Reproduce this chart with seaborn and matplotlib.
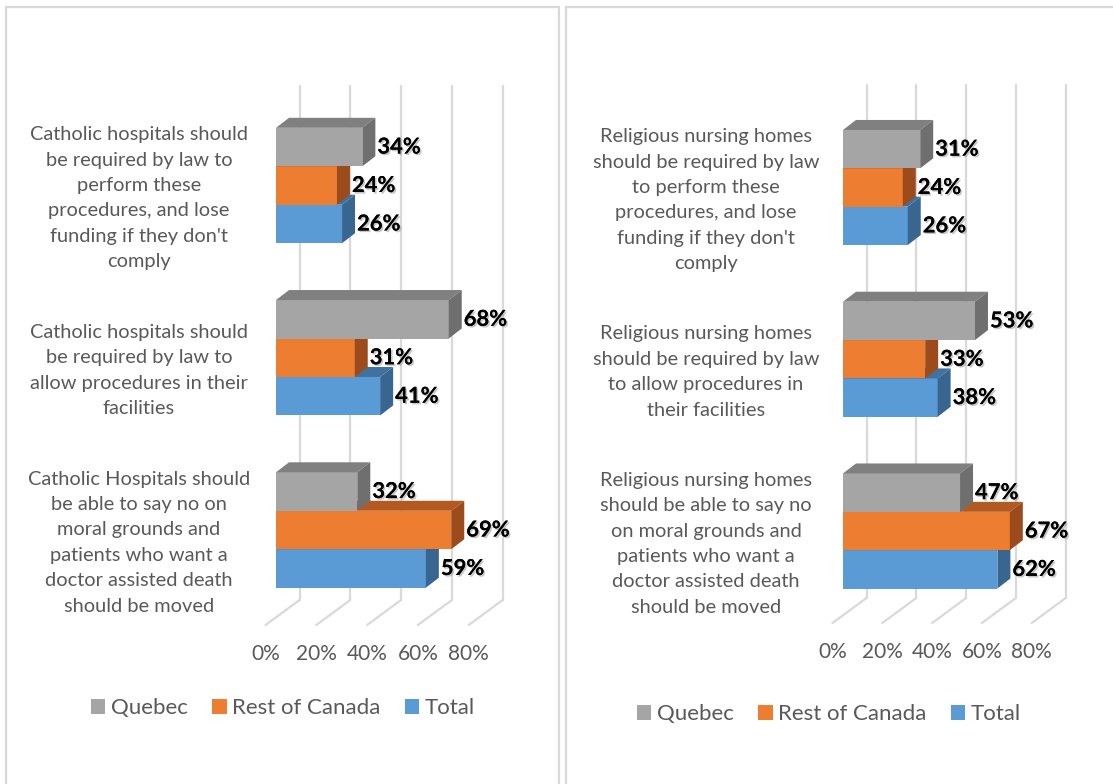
import numpy as np
import pandas as pd
import matplotlib
matplotlib.use("Agg")
import matplotlib.pyplot as plt
import seaborn as sns
import matplotlib.patheffects as pe
from matplotlib.patches import Polygon, Rectangle
from matplotlib.transforms import ScaledTranslation

# ---------------- data ----------------
series = ["Quebec", "Rest of Canada", "Total"]

left_categories = [
    "Catholic hospitals should\nbe required by law to\nperform these\nprocedures, and lose\nfunding if they don't\ncomply",
    "Catholic hospitals should\nbe required by law to\nallow procedures in their\nfacilities",
    "Catholic Hospitals should\nbe able to say no on\nmoral grounds and\npatients who want a\ndoctor assisted death\nshould be moved",
]
left_quebec = [34, 68, 32]
left_rest = [24, 31, 69]
left_total = [26, 41, 59]

right_categories = [
    "Religious nursing homes\nshould be required by law\nto perform these\nprocedures, and lose\nfunding if they don't\ncomply",
    "Religious nursing homes\nshould be required by law\nto allow procedures in\ntheir facilities",
    "Religious nursing homes\nshould be able to say no\non moral grounds and\npatients who want a\ndoctor assisted death\nshould be moved",
]
right_quebec = [31, 53, 47]
right_rest = [24, 33, 67]
right_total = [26, 38, 62]

tick_values = [0, 20, 40, 60, 80]
tick_labels = ["0%", "20%", "40%", "60%", "80%"]

# ---------------- style ----------------
front_colors = ["#A5A5A5", "#ED7D31", "#5B9BD5"]
top_colors = ["#808080", "#B35A22", "#41729F"]
side_colors = ["#6F6F6F", "#9C4C1C", "#386690"]
text_grey = "#595959"
grid_grey = "#D9D9D9"

sns.set_style("white")
plt.rcParams["font.family"] = ["Lato", "DejaVu Sans"]

W, H, DPI = 1113, 784, 100
fig = plt.figure(figsize=(W / DPI, H / DPI), dpi=DPI)
fig.patch.set_facecolor("white")


def add_axes_px(left, top, width, bottom):
    return fig.add_axes([left / W, 1 - bottom / H, width / W, (bottom - top) / H])


def draw_panel(ax, cats, q, r, t, ylim, ax_w, ax_h, legend_xy):
    df = pd.DataFrame({
        "category": cats * 3,
        "series": [s for s in series for _ in cats],
        "value": list(q) + list(r) + list(t),
    })
    sns.barplot(data=df, y="category", x="value", hue="series",
                order=cats, hue_order=series, palette=front_colors,
                width=0.67, orient="h", errorbar=None, saturation=1,
                linewidth=0, ax=ax)
    ax.set_xlim(0, 100)
    ax.set_ylim(*ylim)
    for s in ax.spines.values():
        s.set_visible(False)
    ax.set_facecolor("none")
    ax.set_xlabel("")
    ax.set_ylabel("")

    pxx = ax_w / 100.0                      # pixels per x unit
    pxy = ax_h / abs(ylim[0] - ylim[1])     # pixels per y unit
    dx = 13 / pxx
    dy = 10 / pxy

    # back-wall gridlines and floor lines
    for tv in tick_values:
        xb = tv + 23.5 / pxx
        xf = tv - 10.5 / pxx
        ax.plot([xb, xb], [0, 1], transform=ax.get_xaxis_transform(),
                color=grid_grey, lw=1.6, zorder=0, clip_on=False)
        ax.plot([xb, xf], [0, -25 / ax_h], transform=ax.get_xaxis_transform(),
                color=grid_grey, lw=1.6, zorder=0, clip_on=False)

    # 3-D faces for bars
    for i, cont in enumerate(ax.containers):
        z = 10 - 2 * i
        vals = [q, r, t][i]
        for patch in cont:
            patch.set_zorder(z)
            x0, y0 = patch.get_x(), patch.get_y()
            w, h = patch.get_width(), patch.get_height()
            top = Polygon([(x0, y0), (x0 + w, y0), (x0 + w + dx, y0 - dy), (x0 + dx, y0 - dy)],
                          closed=True, facecolor=top_colors[i], edgecolor="none", zorder=z)
            side = Polygon([(x0 + w, y0), (x0 + w + dx, y0 - dy), (x0 + w + dx, y0 + h - dy), (x0 + w, y0 + h)],
                           closed=True, facecolor=side_colors[i], edgecolor="none", zorder=z)
            ax.add_patch(top)
            ax.add_patch(side)
        ax.bar_label(cont, labels=[f"{v}%" for v in vals], padding=15 * 0.72,
                     fontsize=15.8, fontweight="bold", color="black", zorder=20,
                     path_effects=[pe.withSimplePatchShadow(offset=(1.2, -1.2), shadow_rgbFace="#9a9a9a", alpha=0.55),
                                   pe.Normal()])

    # category labels
    ax.set_yticks(range(len(cats)))
    ax.set_yticklabels(cats, ha="center", multialignment="center", linespacing=1.6,
                       fontsize=14.4, color=text_grey)
    ax.tick_params(axis="y", length=0, pad=137 * 0.72)
    for lab in ax.get_yticklabels():
        lab.set_transform(lab.get_transform() + ScaledTranslation(0, -7 / DPI, fig.dpi_scale_trans))

    # value axis labels
    ax.set_xticks(tick_values)
    ax.set_xticklabels(tick_labels, fontsize=15, color=text_grey, va="center")
    ax.tick_params(axis="x", length=0, pad=54 * 0.72)
    for lab in ax.get_xticklabels():
        lab.set_transform(lab.get_transform() + ScaledTranslation(-10.5 / DPI, 0, fig.dpi_scale_trans))

    sns.move_legend(ax, loc="center", bbox_to_anchor=(legend_xy[0] / W, 1 - legend_xy[1] / H),
                    bbox_transform=fig.transFigure, ncol=3, title=None, frameon=False,
                    fontsize=16, labelcolor=text_grey, handlelength=0.64, handleheight=0.64,
                    handletextpad=0.25, columnspacing=1.1)


# panel frames
fig.add_artist(Rectangle((6 / W, 1 - 820 / H), (559 - 6) / W, (820 - 7) / H,
                         transform=fig.transFigure, facecolor="none", edgecolor=grid_grey, lw=1.6))
fig.add_artist(Rectangle((566 / W, 1 - 820 / H), (1140 - 566) / W, (820 - 7) / H,
                         transform=fig.transFigure, facecolor="none", edgecolor=grid_grey, lw=1.6))

# left panel
ax_l = add_axes_px(276, 86, 254, 600)
draw_panel(ax_l, left_categories, left_quebec, left_rest, left_total,
           ylim=((600 - 185.5) / 172.25, (86 - 185.5) / 172.25), ax_w=254, ax_h=600 - 86,
           legend_xy=(283, 708))

# right panel
ax_r = add_axes_px(843, 85, 249, 598)
draw_panel(ax_r, right_categories, right_quebec, right_rest, right_total,
           ylim=((598 - 187.5) / 171.75, (85 - 187.5) / 171.75), ax_w=249, ax_h=598 - 85,
           legend_xy=(829, 714))

fig.savefig("out.png", dpi=DPI, facecolor="white")
